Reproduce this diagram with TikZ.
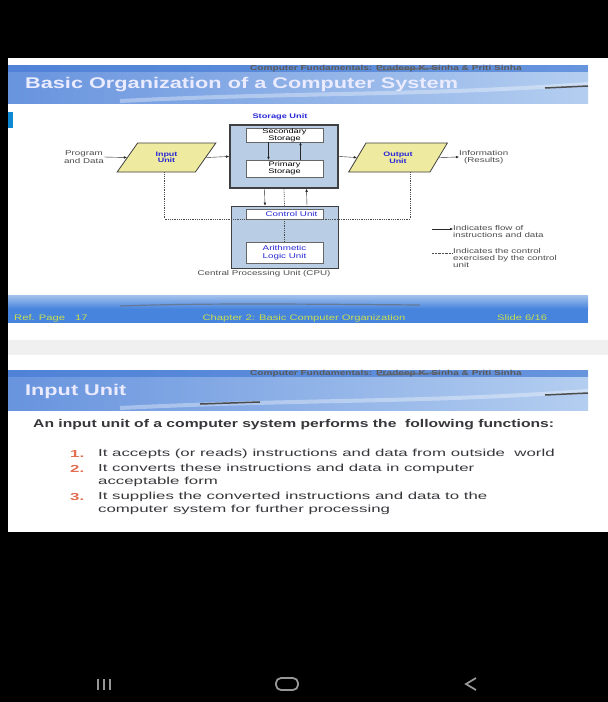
\documentclass[tikz,border=0pt]{standalone}
\usepackage{fontspec}
\setmainfont{Liberation Sans}[FakeStretch=1.4]
\newfontfamily\listfont{Liberation Sans}[FakeStretch=1.65]
\usetikzlibrary{shapes.geometric,arrows.meta}

\definecolor{hdrleft}{RGB}{104,148,222}
\definecolor{hdrright}{RGB}{180,206,240}
\definecolor{hdrtop}{RGB}{70,124,214}
\definecolor{ftrblue}{RGB}{70,132,222}
\definecolor{ftrtext}{RGB}{200,222,80}
\definecolor{unitfill}{RGB}{185,205,229}
\definecolor{iofill}{RGB}{238,234,160}
\definecolor{linkblue}{RGB}{40,40,215}
\definecolor{numorange}{RGB}{225,110,80}
\definecolor{bodytext}{RGB}{55,55,60}
\definecolor{navgray}{RGB}{150,150,150}

\tikzset{
  unitbox/.style={draw=black!75, fill=unitfill, minimum width=108, minimum height=62},
  innerbox/.style={draw=black!60, fill=white, minimum width=77, inner sep=0pt, align=center, font=\fontsize{6.6}{6.8}\selectfont},
  iobox/.style={trapezium, trapezium left angle=57, trapezium right angle=123, draw=black!75, thick,
    fill=iofill, minimum width=99, minimum height=29, trapezium stretches=true,
    inner sep=1pt, align=center, text=linkblue, font=\fontsize{6.4}{6.6}\selectfont\bfseries},
  small/.style={font=\fontsize{7}{7.4}\selectfont, text=black!70, align=left, inner sep=0pt},
  flow/.style={-{Latex[length=3,width=2.5]}, black!85},
  ctrl/.style={densely dotted, black!70, thick},
  bodyline/.style={anchor=west, inner sep=0pt, text=bodytext, font=\listfont\fontsize{10.2}{12}\selectfont},
}

\begin{document}
\begin{tikzpicture}[x=1pt,y=-1pt]
\useasboundingbox (0,0) rectangle (608,702);
\fill[black] (0,0) rectangle (608,702);
\fill[white] (8,58) rectangle (608,532);
\fill[black!6] (8,340) rectangle (608,355);

% slide one: header and footer
\shade[left color=hdrleft, right color=hdrright] (8,65) rectangle (588,103);
\fill[hdrtop, opacity=.7] (8,65) rectangle (588,72);
\draw[white, opacity=.35, line width=4] (120,101) .. controls (300,92) and (420,96) .. (588,84);
\draw[black!70, line width=1.5] (545,88) -- (588,86);
\node[anchor=west, inner sep=0pt, text=black!65, font=\fontsize{7.2}{8}\selectfont\bfseries] (auth1) at (250,68.5) {Computer Fundamentals: Pradeep K. Sinha \& Priti Sinha};
\draw[black!60, opacity=.7, line width=1.6] (378,70) -- (440,68);
\node[anchor=west, inner sep=0pt, text=white!92!blue, font=\fontsize{15.5}{18}\selectfont\bfseries] (title1) at (25,85) {Basic Organization of a Computer System};
\fill[cyan!70!blue] (8,112) rectangle (13,128);

\fill[ftrblue] (8,295) rectangle (588,323);
\shade[top color=hdrright!80!hdrleft, bottom color=ftrblue] (8,295) rectangle (588,309);
\draw[black!60, opacity=.6, line width=1.2] (120,306) .. controls (200,303) and (300,304) .. (420,305);
\node[anchor=west, inner sep=0pt, text=ftrtext, font=\fontsize{8}{9}\selectfont] (refpg) at (14,318) {Ref. Page\hspace{10pt}17};
\node[inner sep=0pt, text=ftrtext, font=\fontsize{8}{9}\selectfont] (chap) at (304,318) {Chapter 2: Basic Computer Organization};
\node[anchor=west, inner sep=0pt, text=ftrtext, font=\fontsize{8}{9}\selectfont] (slnum) at (497,318) {Slide 6/16};

% slide one: diagram
\node[inner sep=0pt, text=linkblue, font=\fontsize{6.6}{7}\selectfont\bfseries] (stlabel) at (280,116.5) {Storage Unit};
\node[unitbox, line width=1.6, minimum height=63] (stor) at (284,156.5) {};
\node[innerbox, minimum height=14] (sec) at (284.5,135) {Secondary\\Storage};
\node[innerbox, minimum height=17] (prim) at (284.5,168.5) {Primary\\Storage};
\draw[flow] ([xshift=-16]sec.south) -- ([xshift=-16]prim.north);
\draw[flow] ([xshift=16]prim.north) -- ([xshift=16]sec.south);

\node[unitbox, line width=.6, minimum width=107] (cpu) at (284.5,237) {};
\node[innerbox, minimum height=10, text=linkblue, font=\fontsize{7}{7}\selectfont] (cu) at (284.5,214) {\hspace{14pt}Control Unit};
\node[innerbox, minimum height=21, text=linkblue, font=\fontsize{7}{7.4}\selectfont] (alu) at (284.5,252.5) {Arithmetic\\Logic Unit};
\draw[ctrl] (cu.south) -- (alu.north);
\node[small] (cpulabel) at (264,274) {Central Processing Unit (CPU)};

\draw[flow] ([xshift=-19.5]stor.south) -- ([xshift=-19.5]cpu.north);
\draw[ctrl] (stor.south) -- (cpu.north);
\draw[flow] ([xshift=22.5]cpu.north) -- ([xshift=22.5]stor.south);

\node[iobox] (inunit) at (166.5,157.5) {Input\\Unit};
\node[iobox] (outunit) at (398,157.5) {Output\\Unit};
\node[small, anchor=east, align=center] (prog) at (104,157) {Program\\and Data};
\node[small, anchor=west, align=center] (info) at (459,157) {Information\\(Results)};

\draw[flow] (prog.east) -- (inunit.west);
\draw[flow] (inunit.east) -- (stor.west);
\draw[flow] (stor.east) -- (outunit.west);
\draw[flow] (outunit.east) -- (info.west);
\draw[ctrl] ([xshift=-2]inunit.south) |- (cu.south west);
\draw[ctrl] ([xshift=12]outunit.south) |- (cu.south east);

% legend
\node[small, anchor=west] (legflow) at (453,231.5) {Indicates flow of\\instructions and data};
\node[small, anchor=west] (legctrl) at (453,258) {Indicates the control\\exercised by the control\\unit};
\coordinate (flowstart) at (432,229);
\coordinate (ctrlstart) at (432,253);
\draw[flow] (flowstart) -- (flowstart -| legflow.west);
\draw[ctrl, thin] (ctrlstart) -- (ctrlstart -| legctrl.west);

% slide two
\shade[left color=hdrleft, right color=hdrright] (8,370) rectangle (588,410);
\fill[hdrtop, opacity=.7] (8,370) rectangle (588,377);
\draw[white, opacity=.35, line width=4] (120,408) .. controls (300,399) and (420,403) .. (588,391);
\draw[black!70, line width=1.5] (200,404) -- (260,402);
\draw[black!70, line width=1.5] (545,395) -- (588,393);
\node[anchor=west, inner sep=0pt, text=black!65, font=\fontsize{7.2}{8}\selectfont\bfseries] (auth2) at (250,373.5) {Computer Fundamentals: Pradeep K. Sinha \& Priti Sinha};
\draw[black!60, opacity=.7, line width=1.6] (378,375) -- (440,373);
\node[anchor=west, inner sep=0pt, text=white!92!blue, font=\fontsize{15.5}{18}\selectfont\bfseries] (title2) at (25,391) {Input Unit};

\node[anchor=west, inner sep=0pt, text=bodytext, font=\fontsize{11.2}{13}\selectfont\bfseries] (intro) at (33,425) {An input unit of a computer system performs the\ \ following functions:};
\foreach \n/\y/\txt in {1/454/{It accepts (or reads) instructions and data from outside\ \ world},
    2/469/{It converts these instructions and data in computer},
    3/497/{It supplies the converted instructions and data to the}} {
  \node[anchor=west, inner sep=0pt, text=numorange, font=\listfont\fontsize{10.2}{12}\selectfont\bfseries] (num\n) at (70,\y) {\n.};
  \node[bodyline] (item\n) at (98,\y) {\txt};
}
\node[bodyline] (item2b) at (98,481.5) {acceptable form};
\node[bodyline] (item3b) at (98,510) {computer system for further processing};

% navigation bar
\foreach \x in {98,104,110}
  \draw[navgray, line width=1.8] (\x,679) -- (\x,690);
\draw[navgray, line width=1.8, rounded corners=5] (276,678) rectangle (298,690);
\draw[navgray, line width=1.8] (476,678) -- (466,684) -- (476,690);
\end{tikzpicture}
\end{document}
